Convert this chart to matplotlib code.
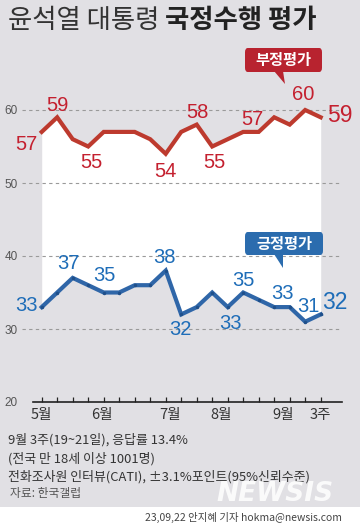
import numpy as np
import matplotlib
matplotlib.use("Agg")
import matplotlib.pyplot as plt
from matplotlib.patches import FancyBboxPatch, Polygon, Rectangle

plt.rcParams['font.family'] = ['Noto Sans CJK KR', 'DejaVu Sans']

# weekly Gallup results, May wk1 .. Sep wk3
neg = [57, 59, 56, 55, 57, 57, 57, 56, 54, 57, 58, 55, 56, 57, 57, 59, 58, 60, 59]
pos = [33, 35, 37, 36, 35, 35, 36, 36, 38, 32, 33, 35, 33, 35, 34, 33, 33, 31, 32]
month_labels = ['5월', '6월', '7월', '8월', '9월', '3주']
month_at = [0, 3.9, 8.3, 11.6, 15.6, 18]
neg_lab = [0, 1, 3, 8, 10, 11, 13, 17, 18]
pos_lab = [0, 2, 4, 8, 9, 12, 13, 15, 17, 18]
# label offsets in pixels (dx, dy up)
neg_off = [(-15, -13), (0, 12), (3, -16), (0, -18), (1, 12), (2, -16), (9, 12), (-2, 15), (19, 2)]
pos_off = [(-15, 2), (-4, 14), (1, 17), (-1, 13), (-1, -15), (3, -16), (0, 12), (8, 14), (3, 15), (14, 12)]

W, H = 360, 527
BG = '#e1e0e4'
RED_L = '#bd3a2e'
RED_T = '#c4202f'
BLUE_L = '#2f66a8'
BLUE_T = '#1e6db8'
NUMFONT = ['Liberation Sans', 'DejaVu Sans']

fig = plt.figure(figsize=(W / 100, H / 100), dpi=100, facecolor=BG)

def fx(px):
    return px / W

def fy(py):
    return 1 - py / H

# white credit strip
fig.patches.append(Rectangle((0, 0), 1, 20 / H, transform=fig.transFigure,
                             facecolor='white', edgecolor='none', zorder=0))

ax = fig.add_axes([fx(22), fy(402), (342 - 22) / W, (402 - 40) / H])
ax.set_facecolor('none')
x = np.arange(len(neg))
ax.set_xlim((22 - 41.7) / 15.5, (342 - 41.7) / 15.5)
ax.set_ylim(20, 20 + 362 / 7.3)

for v in [30, 40, 50, 60]:
    ax.axhline(v, color='#9a9a9a', lw=0.8, dashes=(3, 3), zorder=1)

ax.fill_between(x, pos, neg, color='white', lw=0, zorder=0.5)
ax.plot(x, neg, color=RED_L, lw=3, solid_joinstyle='miter', zorder=3)
ax.plot(x, pos, color=BLUE_L, lw=3, solid_joinstyle='miter', zorder=3,
        marker='o', ms=2.5, mfc='#1f4f8a', mec='none')

for i, (dx, dy) in zip(neg_lab, neg_off):
    fs = 16.5 if i == len(neg) - 1 else 14.5
    ax.annotate(str(neg[i]), (x[i], neg[i]), xytext=(dx * 0.72, dy * 0.72),
                textcoords='offset points', ha='center', va='center',
                color=RED_T, fontsize=fs, family=NUMFONT, zorder=4)
for i, (dx, dy) in zip(pos_lab, pos_off):
    fs = 16.5 if i == len(pos) - 1 else 14.5
    ax.annotate(str(pos[i]), (x[i], pos[i]), xytext=(dx * 0.72, dy * 0.72),
                textcoords='offset points', ha='center', va='center',
                color=BLUE_T, fontsize=fs, family=NUMFONT, zorder=4)

for s in ['top', 'right', 'left']:
    ax.spines[s].set_visible(False)
ax.spines['bottom'].set_bounds((33 - 41.7) / 15.5, (342 - 41.7) / 15.5)
ax.spines['bottom'].set_linewidth(1.2)
ax.spines['bottom'].set_color('#222222')
ax.set_xticks(x)
ax.set_xticklabels([])
ax.tick_params(axis='x', direction='in', length=3.5, width=0.9, color='#222222')
ax.set_yticks([20, 30, 40, 50, 60])
ax.set_yticklabels(['20', '30', '40', '50', '60'], family=NUMFONT,
                   fontsize=8.5, color='#555555')
ax.tick_params(axis='y', length=0, pad=3)

for lab, p in zip(month_labels, month_at):
    ax.text(p, 20 - 13 / 7.3, lab, ha='center', va='center', fontsize=10.5,
            color='#333333', clip_on=False)

# title
r = fig.canvas.get_renderer()
t1 = fig.text(fx(8), fy(21), '윤석열 대통령 ', fontsize=19, color='#333333',
              ha='left', va='center')
bb = t1.get_window_extent(renderer=r)
fig.text(bb.x1 / W, fy(21), '국정수행 평가', fontsize=19, fontweight='bold',
         color='#222222', ha='left', va='center')

# callouts
def callout(x0, y0, x1, y1, tail, text, color):
    fig.patches.append(FancyBboxPatch((fx(x0), fy(y1)), fx(x1 - x0), (y1 - y0) / H,
                                      boxstyle='round,pad=0,rounding_size=0.008',
                                      transform=fig.transFigure, facecolor=color,
                                      edgecolor='none', zorder=5))
    fig.patches.append(Polygon([(fx(px), fy(py)) for px, py in tail], closed=True,
                               transform=fig.transFigure, facecolor=color,
                               edgecolor='none', zorder=5))
    fig.text(fx((x0 + x1) / 2), fy((y0 + y1) / 2), text, color='white',
             fontsize=11, fontweight='bold', ha='center', va='center', zorder=6)

callout(245, 48, 322, 72, [(274, 71), (283, 71), (285, 84)], '부정평가', '#b8232f')
callout(245, 232, 323, 255, [(274, 254), (283, 254), (283, 268)], '긍정평가', '#2b6cae')

# footnotes
notes = ['9월 3주(19~21일), 응답률 13.4%',
         '(전국 만 18세 이상 1001명)',
         '전화조사원 인터뷰(CATI), ±3.1%포인트(95%신뢰수준)']
for k, n in enumerate(notes):
    fig.text(fx(8), fy(440 + k * 18.5), n, fontsize=9.3, color='#333333',
             ha='left', va='center')
fig.text(fx(10), fy(493), '자료: 한국갤럽', fontsize=8.5, color='#555555',
         ha='left', va='center')

fig.text(fx(275), fy(494), 'NEWSIS', fontsize=19, fontweight='bold', style='italic',
         family='DejaVu Sans', color='white', alpha=0.85, ha='center', va='center')
fig.text(fx(342), fy(517), '23,09,22 안지혜 기자 hokma@newsis.com', fontsize=7.5,
         color='#444444', ha='right', va='center')

fig.savefig('out.png', dpi=100, facecolor=BG)
